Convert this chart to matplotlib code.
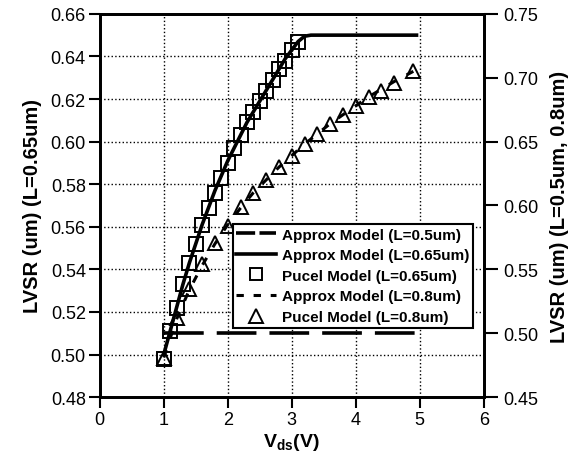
import numpy as np
import matplotlib
matplotlib.use("Agg")
import matplotlib.pyplot as plt
import matplotlib as mpl
from matplotlib.lines import Line2D

mpl.rcParams.update({
    "font.family": "Liberation Sans",
    "mathtext.fontset": "custom",
    "mathtext.rm": "Liberation Sans",
    "mathtext.bf": "Liberation Sans:bold",
})

# -------------------------
# Data
# -------------------------

# Pucel model, L=0.65um (left axis)
pucel065_x = [1.0, 1.1, 1.2, 1.3, 1.4, 1.5, 1.6, 1.7, 1.8, 1.9, 2.0,
              2.1, 2.2, 2.3, 2.4, 2.5, 2.6, 2.7, 2.8, 2.9, 3.0, 3.1]
pucel065_y = [0.498, 0.511, 0.522, 0.533, 0.543, 0.552, 0.561, 0.569, 0.576, 0.583, 0.590,
              0.597, 0.603, 0.609, 0.614, 0.619, 0.624, 0.629, 0.634, 0.638, 0.643, 0.647]

# Approx model, L=0.65um (left axis)
approx065_x = [1.0, 1.1, 1.2, 1.3, 1.4, 1.5, 1.6, 1.7, 1.8, 1.9, 2.0,
               2.1, 2.2, 2.3, 2.4, 2.5, 2.6, 2.7, 2.8, 2.9, 3.0, 3.1,
               3.2, 3.3, 3.5, 4.0, 4.5, 4.95]
approx065_y = [0.500, 0.511, 0.522, 0.533, 0.543, 0.552, 0.561, 0.569, 0.577, 0.584, 0.591,
               0.597, 0.603, 0.609, 0.614, 0.619, 0.624, 0.629, 0.634, 0.639, 0.643, 0.647,
               0.6495, 0.650, 0.650, 0.650, 0.650, 0.650]

# Approx model, L=0.5um (right axis)
approx05_x = [1.0, 4.95]
approx05_y = [0.50, 0.50]

# Pucel model, L=0.8um (right axis)
pucel08_x = [1.0, 1.2, 1.4, 1.6, 1.8, 2.0, 2.2, 2.4, 2.6, 2.8,
             3.0, 3.2, 3.4, 3.6, 3.8, 4.0, 4.2, 4.4, 4.6, 4.9]
pucel08_y = [0.481, 0.512, 0.535, 0.554, 0.571, 0.584, 0.599, 0.610, 0.620, 0.630,
             0.639, 0.648, 0.656, 0.664, 0.671, 0.678, 0.685, 0.690, 0.696, 0.705]

# Approx model, L=0.8um (right axis)
approx08_x = pucel08_x
approx08_y = [0.481, 0.511, 0.534, 0.553, 0.570, 0.585, 0.598, 0.610, 0.620, 0.630,
              0.639, 0.648, 0.656, 0.664, 0.671, 0.678, 0.685, 0.691, 0.697, 0.705]

left_ticks = [0.48, 0.50, 0.52, 0.54, 0.56, 0.58, 0.60, 0.62, 0.64, 0.66]
right_ticks = [0.45, 0.50, 0.55, 0.60, 0.65, 0.70, 0.75]
x_ticks = [0, 1, 2, 3, 4, 5, 6]

labels = [
    "Approx Model (L=0.5um)",
    "Approx Model (L=0.65um)",
    "Pucel Model (L=0.65um)",
    "Approx Model (L=0.8um)",
    "Pucel Model (L=0.8um)",
]

# -------------------------
# Figure
# -------------------------

fig = plt.figure(figsize=(5.8, 4.64), dpi=100)
ax = fig.add_axes([0.172, 0.142, 0.662, 0.826])
ax2 = ax.twinx()

ax.plot(approx065_x, approx065_y, color='black', lw=2.6, zorder=3)
ax.plot(pucel065_x, pucel065_y, ls='none', marker='s', ms=9.5,
        mfc='none', mec='black', mew=1.4, zorder=4)

ax2.plot(approx05_x, approx05_y, color='black', lw=2.6, dashes=(11, 3.6))
ax2.plot(approx08_x, approx08_y, color='black', lw=2.2, dashes=(2.6, 4.0))
ax2.plot(pucel08_x, pucel08_y, ls='none', marker='^', ms=10.5,
         mfc='none', mec='black', mew=1.4)

ax.set_xlim(0, 6)
ax.set_ylim(0.48, 0.66)
ax2.set_ylim(0.45, 0.75)
ax.set_xticks(x_ticks)
ax.set_yticks(left_ticks)
ax2.set_yticks(right_ticks)
ax.set_yticklabels([f"{v:.2f}" for v in left_ticks])
ax2.set_yticklabels([f"{v:.2f}" for v in right_ticks])

ax.grid(True, color='black', ls=':', lw=1.0)
ax.set_axisbelow(True)

for a in (ax, ax2):
    for s in a.spines.values():
        s.set_linewidth(2.0)
ax.tick_params(direction='out', length=8, width=1.5, labelsize=13, pad=2)
ax2.tick_params(direction='out', length=10, width=1.5, labelsize=13, pad=4)

ax.set_xlabel(r"$\mathbf{V_{ds}(V)}$", fontsize=14, labelpad=2)
ax.set_ylabel("LVSR (um) (L=0.65um)", fontsize=14.5, fontweight='bold', labelpad=6)
ax2.set_ylabel("LVSR (um) (L=0.5um, 0.8um)", fontsize=14.5, fontweight='bold', labelpad=8)

# legend samples (Excel draws shorter dashes in the key)
handles = [
    Line2D([], [], color='black', lw=2.6, dashes=(5.3, 1.2)),
    Line2D([], [], color='black', lw=2.6),
    Line2D([], [], ls='none', marker='s', ms=9, mfc='none', mec='black', mew=1.4),
    Line2D([], [], color='black', lw=2.2, dashes=(2.4, 3.2)),
    Line2D([], [], ls='none', marker='^', ms=10, mfc='none', mec='black', mew=1.4),
]
leg = ax2.legend(handles, labels, loc='upper left', bbox_to_anchor=(0.346, 0.452),
                 borderaxespad=0, fancybox=False, framealpha=1, edgecolor='black',
                 prop={'weight': 'bold', 'size': 11}, handlelength=2.6,
                 handletextpad=0.4, labelspacing=0.43, borderpad=0.25)
leg.get_frame().set_linewidth(1.5)

fig.savefig("out.png", dpi=100)
